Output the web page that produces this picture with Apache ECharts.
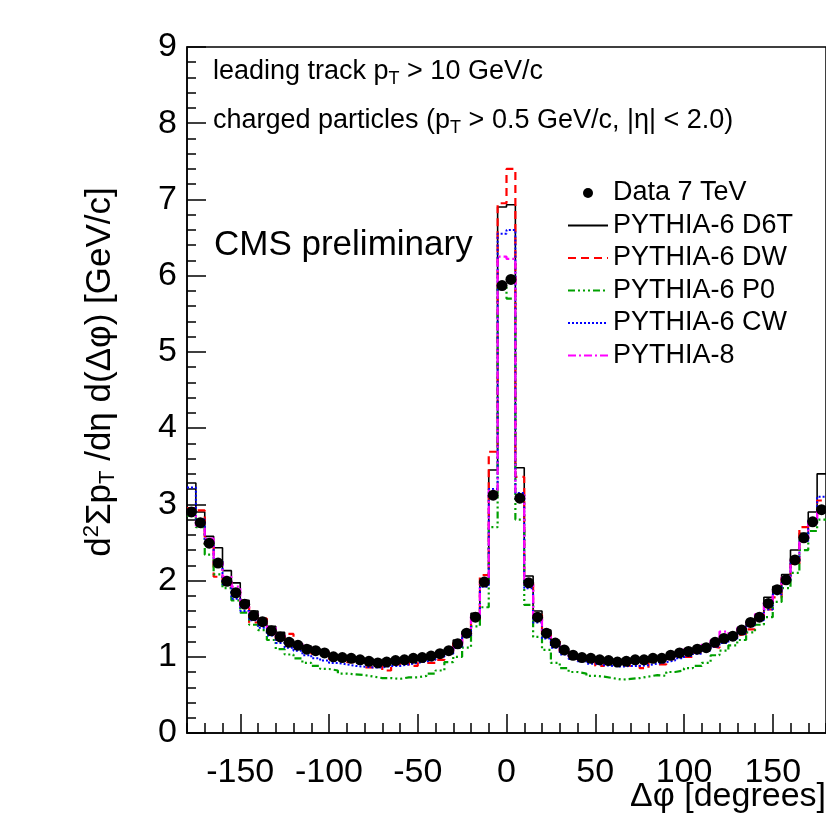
<!DOCTYPE html>
<html>
<head>
<meta charset="utf-8">
<script src="https://cdn.jsdelivr.net/npm/echarts@6/dist/echarts.min.js"></script>
<style>
html,body{margin:0;padding:0;background:#fff;}
#chart{width:826px;height:820px;}
</style>
</head>
<body>
<div id="chart"></div>
<script>
// Bin layout: 72 bins of 5 degrees from -180 to 180
const binLow = Array.from({length: 72}, (_, i) => -180 + 5 * i);

// Data 7 TeV (points at bin centres)
const data7TeV = [2.90,2.76,2.49,2.23,1.99,1.84,1.69,1.54,1.46,1.34,1.26,1.19,1.15,1.10,1.08,1.05,1.00,0.99,0.98,0.96,0.94,0.92,0.93,0.95,0.96,0.98,0.99,1.01,1.04,1.08,1.17,1.31,1.52,1.98,3.12,5.87,
                  5.95,3.08,1.97,1.52,1.31,1.18,1.09,1.02,0.99,0.98,0.96,0.95,0.93,0.94,0.96,0.96,0.98,0.98,1.02,1.05,1.07,1.10,1.12,1.19,1.24,1.27,1.35,1.45,1.52,1.70,1.88,2.01,2.27,2.56,2.77,2.93];
const pythiaD6T = [3.28,2.90,2.58,2.43,2.13,1.97,1.74,1.60,1.50,1.40,1.32,1.22,1.17,1.14,1.10,1.06,1.02,0.99,0.97,0.96,0.97,0.93,0.94,0.95,0.97,0.98,1.00,1.02,1.05,1.10,1.22,1.33,1.57,1.98,3.45,6.90,
                   6.93,3.48,2.06,1.60,1.35,1.20,1.11,1.04,1.01,0.98,0.97,0.96,0.95,0.94,0.95,0.96,0.97,0.99,1.02,1.04,1.06,1.09,1.13,1.18,1.23,1.28,1.36,1.46,1.55,1.78,1.92,2.08,2.40,2.62,2.90,3.40];
const pythiaDW = [2.95,2.92,2.48,2.05,1.97,1.85,1.66,1.45,1.50,1.37,1.22,1.30,1.14,1.12,1.04,1.06,0.97,1.00,0.93,0.95,0.86,0.88,0.82,0.90,0.93,0.88,0.98,0.92,0.96,1.05,1.18,1.28,1.48,2.07,3.69,6.95,
                  7.40,3.36,2.00,1.55,1.28,1.20,1.07,1.03,0.96,1.00,0.88,0.92,0.90,0.88,0.95,0.85,0.98,0.90,0.97,1.04,1.00,1.05,1.14,1.12,1.22,1.28,1.30,1.36,1.50,1.62,1.78,2.05,2.22,2.70,2.78,3.05];
const pythiaP0 = [2.85,2.70,2.34,2.08,1.90,1.74,1.58,1.42,1.35,1.22,1.10,1.03,0.98,0.92,0.88,0.84,0.82,0.78,0.77,0.76,0.74,0.72,0.72,0.71,0.73,0.73,0.75,0.78,0.82,0.93,1.00,1.12,1.40,1.65,2.70,5.85,
                  5.70,2.80,1.68,1.26,1.09,0.92,0.85,0.80,0.78,0.75,0.74,0.72,0.70,0.71,0.72,0.74,0.76,0.75,0.80,0.82,0.85,0.88,0.92,1.02,1.08,1.15,1.22,1.32,1.42,1.52,1.72,1.90,2.10,2.40,2.65,2.80];
const pythiaCW = [3.22,2.80,2.50,2.25,1.95,1.76,1.60,1.48,1.38,1.28,1.18,1.12,1.08,1.02,0.98,0.95,0.92,0.90,0.88,0.87,0.86,0.86,0.88,0.88,0.90,0.92,0.94,0.96,1.00,1.04,1.12,1.26,1.50,1.92,3.20,6.55,
                  6.60,3.15,1.90,1.45,1.24,1.12,1.03,0.97,0.94,0.91,0.89,0.88,0.87,0.88,0.88,0.89,0.91,0.93,0.95,0.98,1.01,1.04,1.08,1.13,1.18,1.22,1.30,1.40,1.48,1.62,1.82,1.98,2.25,2.52,2.80,3.10];
const pythia8 = [2.88,2.72,2.55,2.24,2.05,1.92,1.66,1.58,1.48,1.38,1.28,1.22,1.17,1.12,1.07,1.06,1.01,1.00,0.97,0.95,0.93,0.90,0.92,0.94,0.96,0.97,1.00,1.01,1.03,1.07,1.15,1.30,1.55,1.95,3.18,6.25,
                 6.22,3.12,1.95,1.52,1.30,1.18,1.08,1.00,0.97,0.96,0.93,0.92,0.91,0.92,0.94,0.95,0.97,0.98,1.00,1.06,1.10,1.10,1.16,1.22,1.33,1.28,1.38,1.44,1.56,1.72,1.86,2.04,2.28,2.55,2.76,2.90];

const xMajorTicks = [-150, -100, -50, 0, 50, 100, 150];
const dataName = 'Data 7 TeV';
const modelNames = ['PYTHIA-6 D6T', 'PYTHIA-6 DW', 'PYTHIA-6 P0', 'PYTHIA-6 CW', 'PYTHIA-8'];

const FONT = "'Liberation Sans', Arial, Helvetica, sans-serif";

function stepData(vals) {
  const d = vals.map((v, i) => [binLow[i], v]);
  d.push([180, vals[vals.length - 1]]);
  return d;
}
function pointData(vals) {
  return vals.map((v, i) => [binLow[i] + 2.5, v]);
}
function histSeries(name, vals, color, type, width) {
  return {
    name: name, type: 'line', step: 'end', data: stepData(vals),
    symbol: 'none', showSymbol: false, clip: true,
    lineStyle: {color: color, width: width, type: type},
    itemStyle: {color: color},
    emphasis: {disabled: true}
  };
}

const chart = echarts.init(document.getElementById('chart'), null, {renderer: 'canvas'});
const axisLineStyle = {color: '#000', width: 1.5};
const legendData = [{name: dataName}].concat(modelNames.map(n => ({name: n, itemStyle: {opacity: 0}})));
const option = {
  animation: false,
  backgroundColor: '#fff',
  grid: {left: 187, right: -3, top: 47, bottom: 87, show: true, borderColor: '#000', borderWidth: 1.5, backgroundColor: 'transparent'},
  xAxis: [
    {type: 'value', min: -180, max: 180, interval: 10, position: 'bottom',
     axisLine: {show: true, onZero: false, lineStyle: axisLineStyle},
     axisTick: {show: true, inside: true, length: 10, lineStyle: axisLineStyle},
     axisLabel: {show: false}, splitLine: {show: false}},
    {type: 'value', min: -180, max: 180, position: 'bottom',
     axisLine: {show: false, onZero: false},
     axisTick: {show: true, inside: true, length: 19, customValues: xMajorTicks, lineStyle: axisLineStyle},
     axisLabel: {show: true, customValues: xMajorTicks, fontSize: 34, margin: 23, color: '#000', fontFamily: FONT},
     splitLine: {show: false}}
  ],
  yAxis: {type: 'value', min: 0, max: 9, interval: 1, position: 'left',
    axisLine: {show: true, onZero: false, lineStyle: axisLineStyle},
    axisTick: {show: true, inside: true, length: 19, lineStyle: axisLineStyle},
    minorTick: {show: true, splitNumber: 5, length: 9, lineStyle: axisLineStyle},
    axisLabel: {fontSize: 34, margin: 10, color: '#000', fontFamily: FONT},
    splitLine: {show: false}},
  legend: {
    orient: 'vertical', left: 562, top: 173,
    itemWidth: 40, itemHeight: 10, itemGap: 2.5,
    data: legendData,
    textStyle: {fontSize: 27, fontFamily: FONT, color: '#000', lineHeight: 30},
    selectedMode: false
  },
  series: [
    histSeries('PYTHIA-6 D6T', pythiaD6T, '#000000', 'solid', 1.6),
    histSeries('PYTHIA-6 DW', pythiaDW, '#ff0000', [8, 5], 2.2),
    histSeries('PYTHIA-6 P0', pythiaP0, '#00a000', [7, 3, 2, 3, 2, 3, 2, 3], 2.2),
    histSeries('PYTHIA-6 CW', pythiaCW, '#0000ff', [2, 2], 2),
    histSeries('PYTHIA-8', pythia8, '#ff00ff', [8, 3, 2, 3], 2.2),
    {name: dataName, type: 'scatter', data: pointData(data7TeV), symbol: 'circle', symbolSize: 11,
     itemStyle: {color: '#000', opacity: 1}, emphasis: {disabled: true}, z: 5}
  ],
  graphic: [
    {type: 'text', left: 213, top: 56, style: {
      text: '{n|leading track p}{s|T}{n| > 10 GeV/c}',
      rich: {n: {fontSize: 27, fontFamily: FONT, lineHeight: 34}, s: {fontSize: 18, fontFamily: FONT, padding: [14, 0, 0, 0], lineHeight: 18}},
      fill: '#000'}},
    {type: 'text', left: 213, top: 105, style: {
      text: '{n|charged particles (p}{s|T}{n| > 0.5 GeV/c, |η| < 2.0)}',
      rich: {n: {fontSize: 27, fontFamily: FONT, lineHeight: 34}, s: {fontSize: 18, fontFamily: FONT, padding: [14, 0, 0, 0], lineHeight: 18}},
      fill: '#000'}},
    {type: 'text', left: 214, top: 228, style: {text: 'CMS preliminary', fontSize: 35, fontFamily: FONT, fill: '#000'}},
    {type: 'text', right: 0, top: 780, style: {text: 'Δφ [degrees]', fontSize: 34, fontFamily: FONT, fill: '#000'}},
    {type: 'text', x: 100, y: 372, rotation: Math.PI / 2, style: {
      text: '{n|d}{p|2}{n|Σp}{s|T}{n| /dη d(Δφ) [GeV/c]}',
      align: 'center', verticalAlign: 'middle',
      rich: {n: {fontSize: 35, fontFamily: FONT, lineHeight: 40},
             p: {fontSize: 22, fontFamily: FONT, padding: [0, 0, 16, 0], lineHeight: 22},
             s: {fontSize: 22, fontFamily: FONT, padding: [16, 0, 0, 0], lineHeight: 22}},
      fill: '#000'}}
  ]
};
chart.setOption(option);
</script>
</body>
</html>
